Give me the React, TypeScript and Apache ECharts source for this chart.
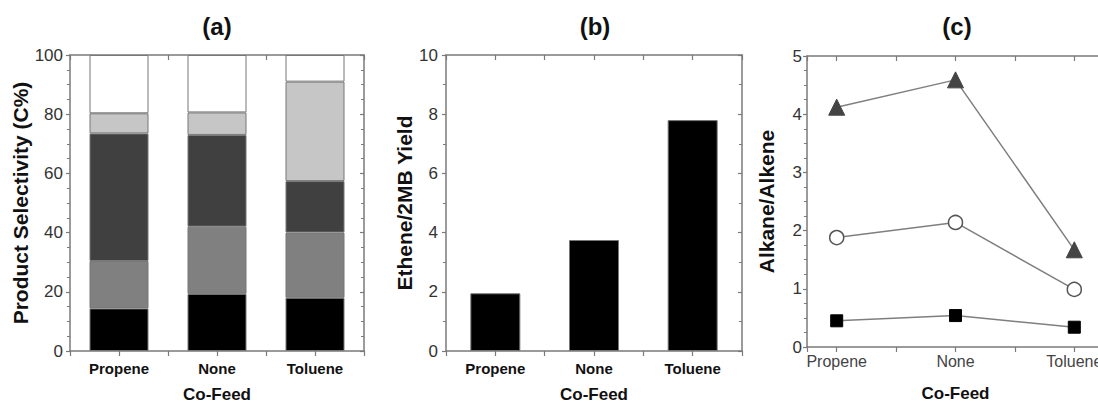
import React, { useEffect, useRef } from "react";
import * as echarts from "echarts";

const categories = ["Propene", "None", "Toluene"];

// Panel (a) stacked segments (bottom to top), C%
const segBlack = [14.4, 19.3, 18.0];
const segGray = [16.0, 22.7, 22.0];
const segDark = [43.1, 31.0, 17.4];
const segLight = [6.8, 7.6, 33.6];
const segWhite = [19.7, 19.4, 9.0];

// Panel (b) Ethene/2MB yield
const etheneYield = [1.95, 3.75, 7.8];

// Panel (c) Alkane/Alkene ratios
const ratioTriangle = [4.12, 4.59, 1.67];
const ratioCircle = [1.88, 2.14, 0.99];
const ratioSquare = [0.45, 0.54, 0.34];

const yTicksA = { min: 0, max: 100, interval: 20 };
const yTicksB = { min: 0, max: 10, interval: 2 };
const yTicksC = { min: 0, max: 5, interval: 1 };

const AXIS = "#7a7a7a";
const NUM_FONT = "'Liberation Sans Narrow', 'Arial Narrow', 'Liberation Sans', Arial, sans-serif";
const FONT = "'Liberation Sans', Arial, Helvetica, sans-serif";

const pts = (vals: number[]) => vals.map((v, i) => [i, v]);

const catFormatter = (v: number) => {
  const r = Math.round(v);
  return Math.abs(v - r) < 1e-6 && r >= 0 && r < categories.length ? categories[r] : "";
};

function bottomX(grid: number, min: number, max: number, bold: boolean, margin: number, nameGap: number) {
  return {
    type: "value",
    gridIndex: grid,
    position: "bottom",
    min,
    max,
    splitNumber: 6,
    splitLine: { show: false },
    axisLine: { show: true, onZero: false, lineStyle: { color: AXIS, width: 1.5 } },
    axisTick: { show: true, inside: false, length: 5, lineStyle: { color: AXIS, width: 1.2 } },
    axisLabel: {
      formatter: catFormatter,
      margin,
      fontFamily: FONT,
      fontSize: bold ? 15 : 16,
      fontWeight: bold ? "bold" : "normal",
      color: bold ? "#111" : "#444",
      showMinLabel: true,
      showMaxLabel: true,
    },
    name: "Co-Feed",
    nameLocation: "middle",
    nameGap,
    nameTextStyle: { fontFamily: FONT, fontSize: 17, lineHeight: 17, fontWeight: "bold", color: "#111" },
  };
}

function topX(grid: number, min: number, max: number) {
  return {
    type: "value",
    gridIndex: grid,
    position: "top",
    min,
    max,
    splitNumber: 6,
    splitLine: { show: false },
    axisLine: { show: true, onZero: false, lineStyle: { color: AXIS, width: 1.5 } },
    axisTick: { show: true, inside: true, length: 5, lineStyle: { color: AXIS, width: 1.2 } },
    axisLabel: { show: false },
  };
}

function hiddenCat(grid: number) {
  return {
    type: "category",
    gridIndex: grid,
    data: categories,
    show: false,
    boundaryGap: true,
  };
}

function leftY(grid: number, t: { min: number; max: number; interval: number }, minor: number, name: string, nameGap: number, margin: number) {
  return {
    type: "value",
    gridIndex: grid,
    position: "left",
    min: t.min,
    max: t.max,
    interval: t.interval,
    splitLine: { show: false },
    axisLine: { show: true, onZero: false, lineStyle: { color: AXIS, width: 1.5 } },
    axisTick: { show: true, inside: false, length: 4, lineStyle: { color: AXIS, width: 1.2 } },
    minorTick: { show: true, splitNumber: minor, length: 3, lineStyle: { color: AXIS, width: 1 } },
    axisLabel: { margin, fontFamily: NUM_FONT, fontSize: 17, color: "#333" },
    name,
    nameLocation: "middle",
    nameGap,
    nameTextStyle: { fontFamily: FONT, fontSize: 21, fontWeight: "bold", color: "#111" },
  };
}

function rightY(grid: number, t: { min: number; max: number; interval: number }, minor: number) {
  return {
    type: "value",
    gridIndex: grid,
    position: "right",
    min: t.min,
    max: t.max,
    interval: t.interval,
    splitLine: { show: false },
    axisLine: { show: true, onZero: false, lineStyle: { color: AXIS, width: 1.5 } },
    axisTick: { show: true, inside: true, length: 4, lineStyle: { color: AXIS, width: 1.2 } },
    minorTick: { show: true, splitNumber: minor, length: 3, lineStyle: { color: AXIS, width: 1 } },
    axisLabel: { show: false },
  };
}

export default function App() {
  const ref = useRef<HTMLDivElement>(null);
  useEffect(() => {
    if (!ref.current) return;
    document.body.style.margin = "0";
    const chart = echarts.init(ref.current, undefined, { renderer: "svg" });
    const barBorder = { borderColor: "#777", borderWidth: 1 };
    const stackSeries = [
      { name: "s1", data: segBlack, color: "#000000" },
      { name: "s2", data: segGray, color: "#808080" },
      { name: "s3", data: segDark, color: "#404040" },
      { name: "s4", data: segLight, color: "#c6c6c6" },
      { name: "s5", data: segWhite, color: "#ffffff" },
    ].map((s) => ({
      type: "bar",
      name: s.name,
      stack: "a",
      xAxisIndex: 2,
      yAxisIndex: 0,
      barWidth: 59,
      data: s.data,
      itemStyle: { color: s.color, ...barBorder },
    }));

    const lineCommon = {
      type: "line",
      xAxisIndex: 6,
      yAxisIndex: 4,
      lineStyle: { color: "#7f7f7f", width: 1.5 },
    };

    const titleStyle = { fontFamily: FONT, fontSize: 24, fontWeight: "bold", color: "#111" };

    chart.setOption({
      animation: false,
      title: [
        { text: "(a)", left: 212, top: 9, textAlign: "center", textStyle: titleStyle },
        { text: "(b)", left: 590, top: 9, textAlign: "center", textStyle: titleStyle },
        { text: "(c)", left: 952, top: 9, textAlign: "center", textStyle: titleStyle },
      ],
      grid: [
        { left: 70, top: 55, width: 294, height: 296, outerBoundsMode: "none" },
        { left: 446, top: 55, width: 296, height: 296, outerBoundsMode: "none" },
        { left: 807, top: 56, width: 297, height: 291, outerBoundsMode: "none" },
      ],
      xAxis: [
        bottomX(0, -0.5, 2.5, true, 10, 35),
        topX(0, -0.5, 2.5),
        hiddenCat(0),
        bottomX(1, -0.5, 2.5, true, 10, 35),
        topX(1, -0.5, 2.5),
        hiddenCat(1),
        { ...bottomX(2, -0.25, 2.25, false, 6, 38), splitNumber: 5 },
        { ...topX(2, -0.25, 2.25), splitNumber: 5 },
      ],
      yAxis: [
        leftY(0, yTicksA, 4, "Product Selectivity (C%)", 36, 7),
        rightY(0, yTicksA, 4),
        leftY(1, yTicksB, 2, "Ethene/2MB Yield", 31, 8),
        rightY(1, yTicksB, 2),
        leftY(2, yTicksC, 4, "Alkane/Alkene", 30, 5),
      ],
      series: [
        ...stackSeries,
        {
          type: "bar",
          name: "yield",
          xAxisIndex: 5,
          yAxisIndex: 2,
          barWidth: 50,
          data: etheneYield,
          itemStyle: { color: "#000", ...barBorder },
        },
        {
          ...lineCommon,
          name: "triangle",
          data: pts(ratioTriangle),
          symbol: "triangle",
          symbolSize: 16,
          itemStyle: { color: "#444", borderColor: "#444", borderWidth: 1 },
        },
        {
          ...lineCommon,
          name: "circle",
          data: pts(ratioCircle),
          symbol: "circle",
          symbolSize: 14,
          itemStyle: { color: "#fff", borderColor: "#555", borderWidth: 1.5 },
        },
        {
          ...lineCommon,
          name: "square",
          data: pts(ratioSquare),
          symbol: "rect",
          symbolSize: 12,
          itemStyle: { color: "#000", borderColor: "#000", borderWidth: 1 },
        },
      ],
    });
    return () => chart.dispose();
  }, []);
  return <div ref={ref} style={{ position: "absolute", left: 0, top: 0, width: 1098, height: 405 }} />;
}
